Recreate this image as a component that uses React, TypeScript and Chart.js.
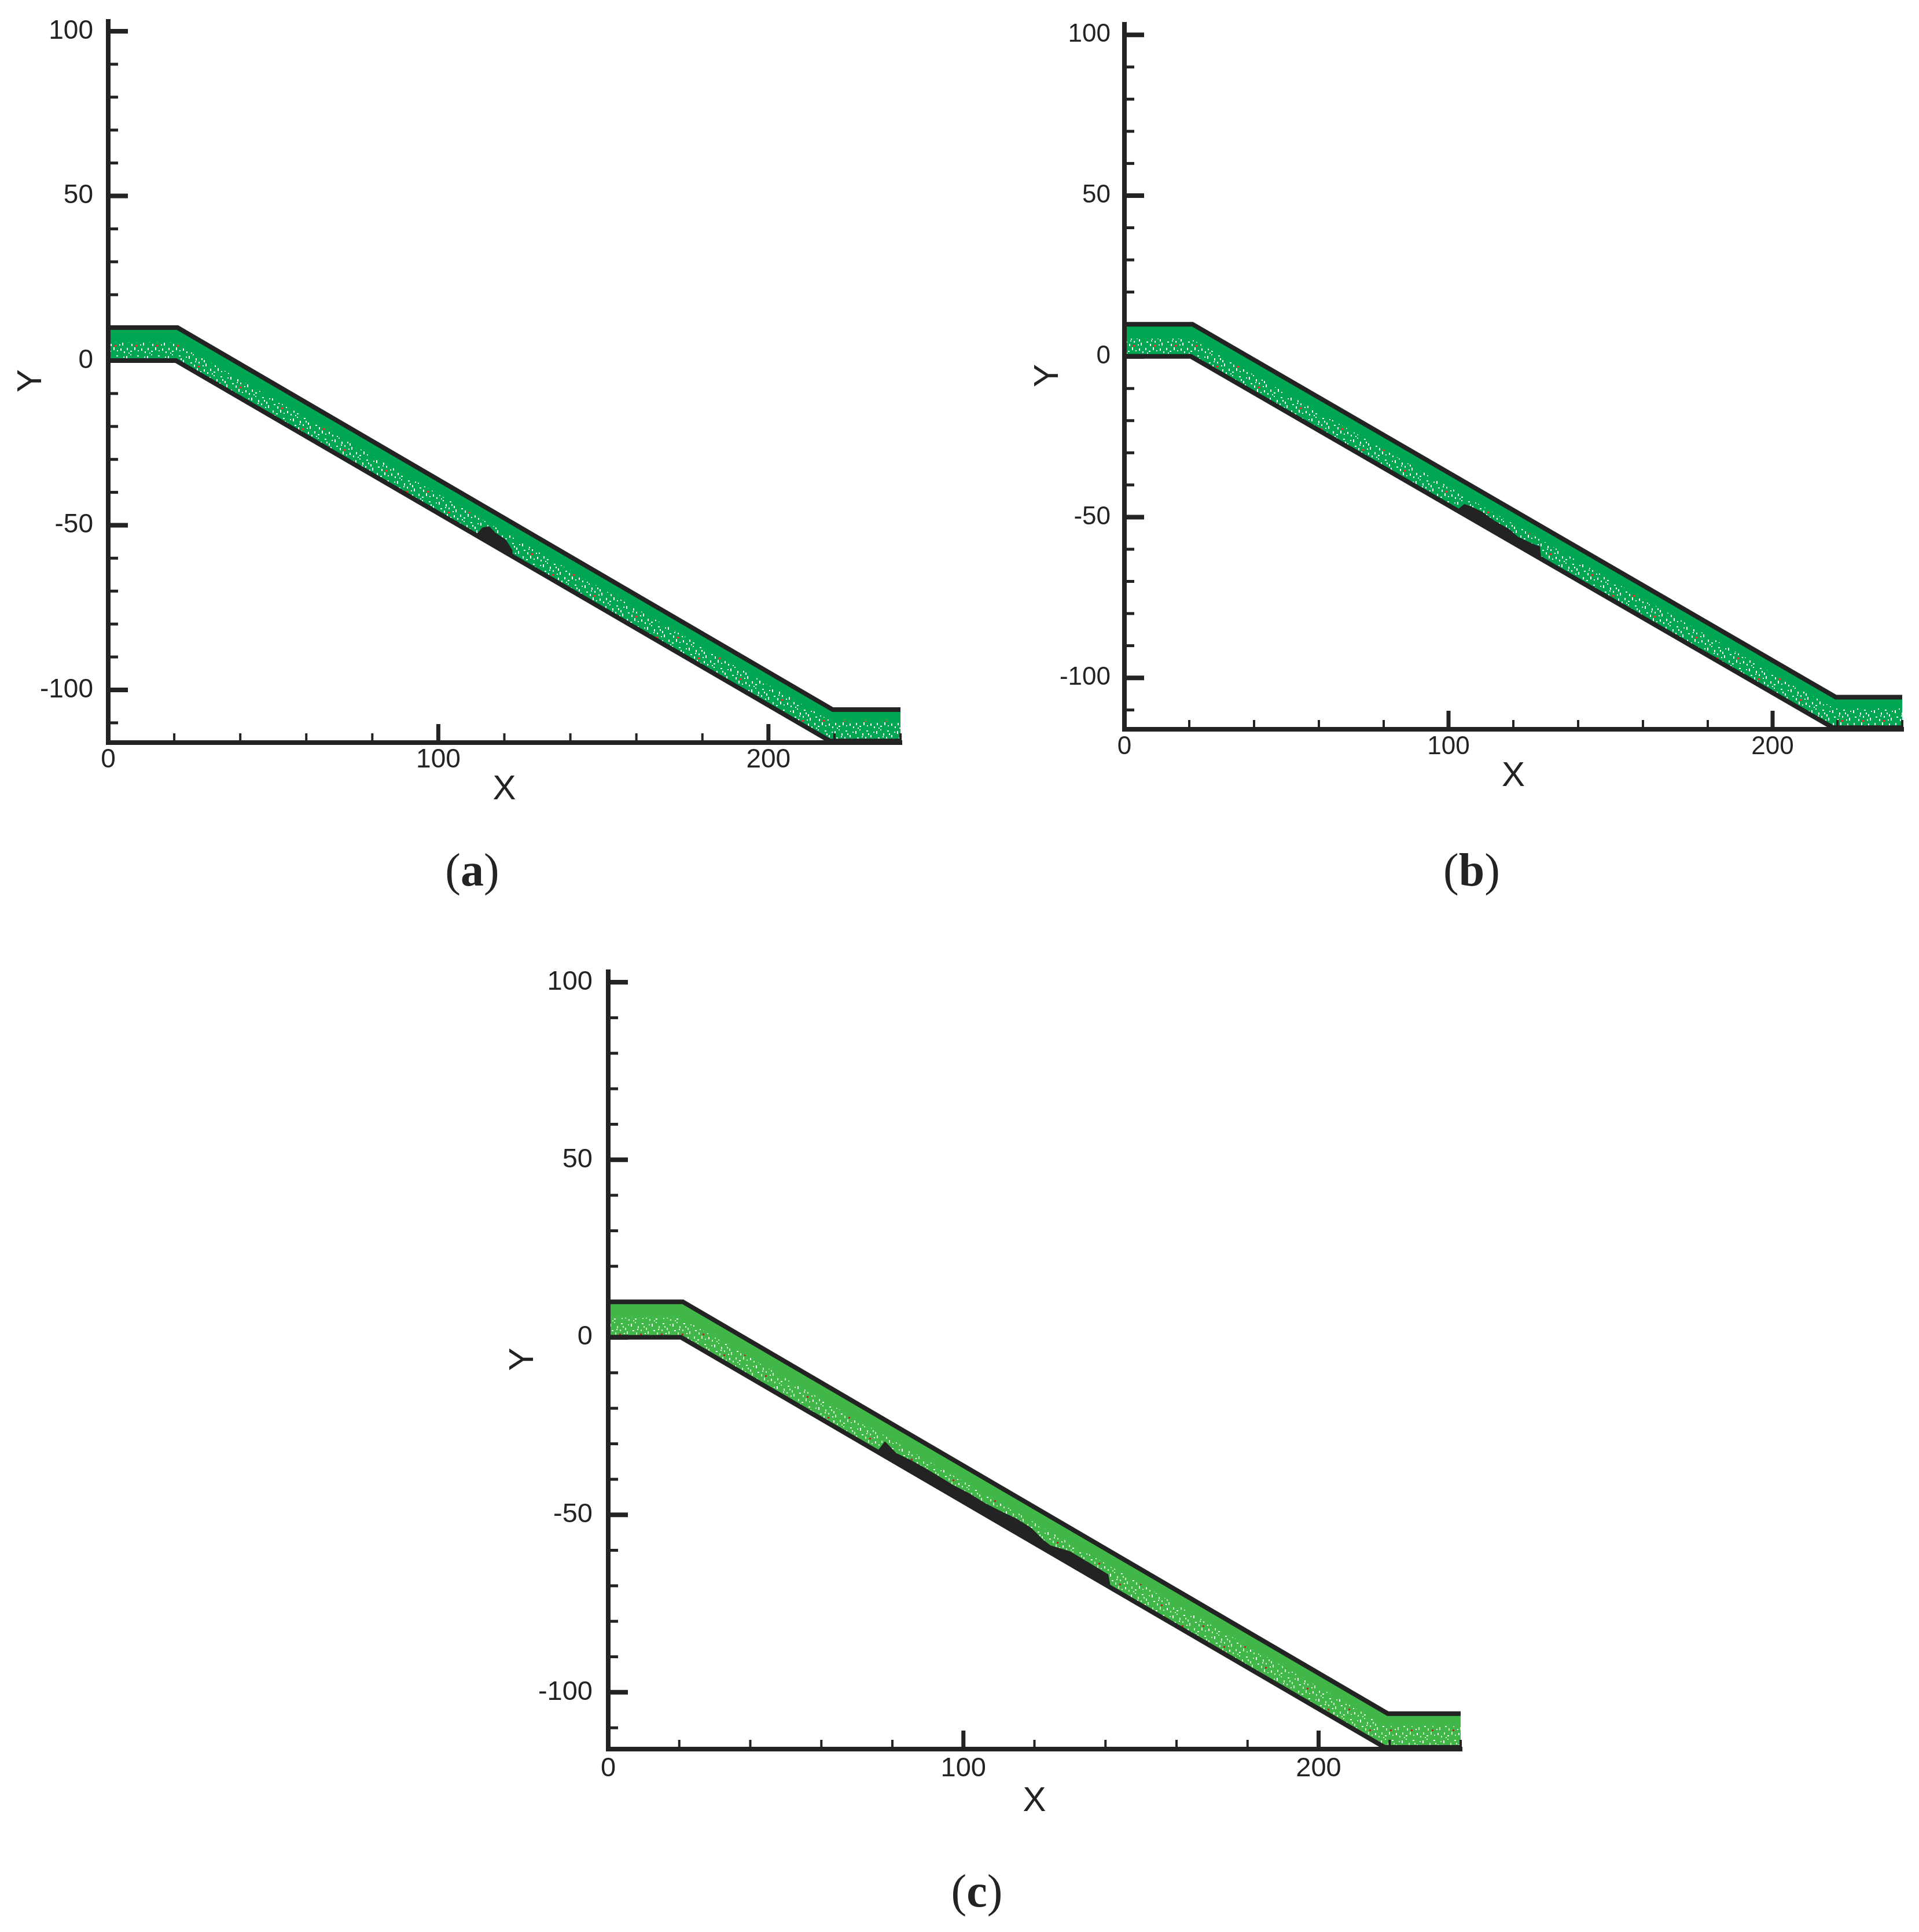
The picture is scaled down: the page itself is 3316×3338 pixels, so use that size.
import React, { useEffect, useRef } from "react";
import { Chart, registerables } from "chart.js";

Chart.register(...registerables);

// ---------------- data ----------------
const xTickValues = [0, 20, 40, 60, 80, 100, 120, 140, 160, 180, 200, 220, 240];
const yTickValues = [-110, -100, -90, -80, -70, -60, -50, -40, -30, -20, -10, 0, 10, 20, 30, 40, 50, 60, 70, 80, 90, 100];
const xMajorTicks = [0, 100, 200];
const yMajorTicks = [-100, -50, 0, 50, 100];

// channel (granular layer) upper and lower boundaries
const bandTopX = [0, 21, 219.5, 240];
const bandTopY = [10, 10, -106, -106];
const bandBottomX = [0, 20.5, 218.6, 240];
const bandBottomY = [0, 0, -115.5, -115.5];
// upper limit of the speckled (mixed particle) lower layer
const speckleTopX = [0, 20.5, 219, 240];
const speckleTopY = [5.5, 5.5, -109.5, -109.5];

// black particle cluster, panel (a)
const clusterTopAX = [111.5, 113.3, 115.4, 117.5, 120.4, 122.5];
const clusterTopAY = [-52.9, -50.7, -50.3, -52.4, -54.3, -57.6];
const clusterBaseAX = [111.5, 122.5];
const clusterBaseAY = [-53.3, -59.7];

// black particle cluster, panel (b)
const clusterTopBX = [102.5, 103.1, 104.9, 107.2, 110.3, 114.4, 118.7, 121.5, 126.4, 128.2, 128.6];
const clusterTopBY = [-47.9, -47.4, -45.9, -46.8, -48.3, -51.3, -53.7, -56.2, -58.5, -59.1, -62.8];
const clusterBaseBX = [102.5, 128.6];
const clusterBaseBY = [-48.1, -63.2];

// black particle cluster, panel (c)
const clusterTopCX = [75.5, 76.2, 77.9, 81.1, 85.4, 89.3, 93.0, 97.4, 101.7, 106.1, 110.4, 114.8, 119.1, 122.4, 124.5, 130.0, 135.4, 140.8, 141.4];
const clusterTopCY = [-32.0, -31.5, -29.3, -32.6, -34.7, -36.9, -39.1, -41.8, -44.0, -46.7, -48.9, -51.0, -53.7, -57.0, -58.6, -60.3, -63.5, -66.8, -70.0];
const clusterBaseCX = [75.5, 141.4];
const clusterBaseCY = [-32.3, -70.7];

const captions = ["a", "b", "c"];

// ---------------- helpers ----------------
const toPts = (xs: number[], ys: number[]) => xs.map((x, i) => ({ x, y: ys[i] }));

const INK = "#232323";
const FONT = "'Liberation Sans', Arial, Helvetica, sans-serif";

function makePattern(kind: string): CanvasPattern | string {
  const c = document.createElement("canvas");
  const s = 36;
  c.width = s;
  c.height = s;
  const g = c.getContext("2d");
  if (!g) return "rgba(255,255,255,0.4)";
  const marks = [
    [2, 3, 2, 5], [9, 0, 2, 2], [14, 7, 2, 4], [21, 2, 3, 2], [28, 10, 2, 4], [33, 4, 2, 2],
    [5, 14, 3, 2], [11, 18, 2, 4], [19, 13, 2, 3], [26, 19, 2, 2], [31, 16, 2, 5], [3, 25, 2, 4],
    [9, 30, 3, 2], [16, 24, 2, 5], [22, 29, 2, 2], [28, 26, 2, 4], [34, 31, 2, 3], [6, 33, 2, 2],
    [13, 12, 2, 2], [24, 7, 2, 3],
  ];
  marks.forEach(([x, y, w, h], i) => {
    g.fillStyle = kind === "c" ? (i % 3 === 0 ? "#ffffff" : "#c9ecc4") : "#ffffff";
    g.fillRect(x, y, w, h);
  });
  g.fillStyle = kind === "c" ? "#9a3b2a" : "#e8322c";
  g.fillRect(18, 20, 3, 3);
  return g.createPattern(c, "repeat") || "rgba(255,255,255,0.4)";
}

type PanelCfg = {
  key: string;
  left: number; top: number; w: number; h: number;
  area: { left: number; right: number; top: number; bottom: number };
  yMin: number; yMax: number;
  tickFont: number; yLabelPad: number; xLabelPad: number;
  yTitlePad: number; xTitlePad: number;
  green: string; speckle: string;
  cTopX: number[]; cTopY: number[]; cBaseX: number[]; cBaseY: number[];
};

const TITLE_SIZE = 60;

const panels: PanelCfg[] = [
  {
    key: "a", left: 0, top: 0, w: 1640, h: 1413,
    area: { left: 187, right: 1556, top: 33, bottom: 1283 },
    yMin: -116, yMax: 103.7, tickFont: 46, yLabelPad: 26, xLabelPad: 3,
    yTitlePad: 18, xTitlePad: 13, green: "#00A651", speckle: "ab",
    cTopX: clusterTopAX, cTopY: clusterTopAY, cBaseX: clusterBaseAX, cBaseY: clusterBaseAY,
  },
  {
    key: "b", left: 1760, top: 0, w: 1556, h: 1390,
    area: { left: 1943, right: 3287, top: 38, bottom: 1260 },
    yMin: -116, yMax: 104, tickFont: 44, yLabelPad: 24, xLabelPad: 4,
    yTitlePad: 15, xTitlePad: 13, green: "#00A651", speckle: "ab",
    cTopX: clusterTopBX, cTopY: clusterTopBY, cBaseX: clusterBaseBX, cBaseY: clusterBaseBY,
  },
  {
    key: "c", left: 800, top: 1600, w: 1800, h: 1552,
    area: { left: 1051, right: 2524, top: 1675, bottom: 3022 },
    yMin: -116, yMax: 103.6, tickFont: 47, yLabelPad: 27, xLabelPad: 6,
    yTitlePad: 68, xTitlePad: 4, green: "#41B649", speckle: "c",
    cTopX: clusterTopCX, cTopY: clusterTopCY, cBaseX: clusterBaseCX, cBaseY: clusterBaseCY,
  },
];

const captionPos = [
  { left: 816, top: 1503 },
  { left: 2543, top: 1503 },
  { left: 1688, top: 3267 },
];

const axisPlugin = {
  id: "tecplotAxes",
  afterDatasetsDraw(chart: any) {
    const { ctx, chartArea: a, scales } = chart;
    const x = scales.x;
    const y = scales.y;
    ctx.save();
    ctx.strokeStyle = INK;
    ctx.lineCap = "butt";
    // ticks on y axis (inward)
    y.ticks.forEach((t: any) => {
      const p = y.getPixelForValue(t.value);
      const major = yMajorTicks.includes(t.value);
      ctx.lineWidth = major ? 8 : 5;
      ctx.beginPath();
      ctx.moveTo(a.left, p);
      ctx.lineTo(a.left + (major ? 34 : 17), p);
      ctx.stroke();
    });
    // ticks on x axis (inward)
    x.ticks.forEach((t: any) => {
      const p = x.getPixelForValue(t.value);
      const major = xMajorTicks.includes(t.value);
      ctx.lineWidth = major ? 7 : 4;
      ctx.beginPath();
      ctx.moveTo(p, a.bottom);
      ctx.lineTo(p, a.bottom - (major ? 32 : 16));
      ctx.stroke();
    });
    // axis lines
    ctx.lineWidth = 8;
    ctx.beginPath();
    ctx.moveTo(a.left, a.top);
    ctx.lineTo(a.left, a.bottom + 4);
    ctx.moveTo(a.left - 4, a.bottom);
    ctx.lineTo(a.right + 3, a.bottom);
    ctx.stroke();
    ctx.restore();
  },
};

function Panel({ cfg }: { cfg: PanelCfg }) {
  const ref = useRef<HTMLCanvasElement>(null);
  useEffect(() => {
    const canvas = ref.current;
    if (!canvas) return;
    const pattern = makePattern(cfg.speckle);
    const top = toPts(bandTopX, bandTopY);
    const bottom = toPts(bandBottomX, bandBottomY);
    const common = { showLine: true, pointRadius: 0, pointHoverRadius: 0, tension: 0 };
    const chart = new Chart(canvas, {
      type: "scatter",
      data: {
        datasets: [
          { ...common, label: "fill", data: top, borderWidth: 0, borderColor: "rgba(0,0,0,0)", backgroundColor: cfg.green, fill: { target: 1 }, order: 5 },
          { ...common, label: "bottom", data: bottom, borderWidth: 8, borderColor: INK, fill: false, order: 1 },
          { ...common, label: "top", data: top, borderWidth: 8, borderColor: INK, fill: false, order: 1 },
          { ...common, label: "speckle", data: toPts(speckleTopX, speckleTopY), borderWidth: 0, borderColor: "rgba(0,0,0,0)", backgroundColor: pattern, fill: { target: 1 }, order: 4 },
          { ...common, label: "cluster", data: toPts(cfg.cTopX, cfg.cTopY), borderWidth: 0, borderColor: "rgba(0,0,0,0)", backgroundColor: INK, fill: { target: 5 }, order: 3 },
          { ...common, label: "clusterBase", data: toPts(cfg.cBaseX, cfg.cBaseY), borderWidth: 0, borderColor: "rgba(0,0,0,0)", fill: false, order: 3 },
        ] as any,
      },
      options: {
        responsive: false,
        animation: false,
        devicePixelRatio: 1,
        events: [],
        layout: {
          padding: {
            left: 0,
            top: cfg.area.top - cfg.top,
            right: cfg.left + cfg.w - cfg.area.right,
            bottom: 0,
          },
        },
        plugins: { legend: { display: false }, tooltip: { enabled: false } },
        scales: {
          x: {
            type: "linear",
            position: "bottom",
            min: 0,
            max: 240,
            afterBuildTicks: (s: any) => { s.ticks = xTickValues.map((v) => ({ value: v })); },
            afterFit: (s: any) => {
              s.height = cfg.top + cfg.h - cfg.area.bottom;
              s.paddingLeft = 0; s.paddingRight = 0; s.paddingTop = 0; s.paddingBottom = 0;
            },
            grid: { display: false, drawTicks: false },
            border: { display: false },
            ticks: {
              autoSkip: false, maxRotation: 0, minRotation: 0, padding: cfg.xLabelPad, color: INK,
              font: { family: FONT, size: cfg.tickFont },
              callback: (v: any) => (xMajorTicks.includes(Number(v)) ? String(v) : ""),
            },
            title: { display: true, text: "X", color: INK, font: { family: FONT, size: TITLE_SIZE }, padding: { top: 0, bottom: cfg.xTitlePad } },
          },
          y: {
            type: "linear",
            position: "left",
            min: cfg.yMin,
            max: cfg.yMax,
            afterBuildTicks: (s: any) => { s.ticks = yTickValues.map((v) => ({ value: v })); },
            afterFit: (s: any) => {
              s.width = cfg.area.left - cfg.left;
              s.paddingLeft = 0; s.paddingRight = 0; s.paddingTop = 0; s.paddingBottom = 0;
            },
            grid: { display: false, drawTicks: false },
            border: { display: false },
            ticks: {
              autoSkip: false, padding: cfg.yLabelPad, color: INK,
              font: { family: FONT, size: cfg.tickFont },
              callback: (v: any) => (yMajorTicks.includes(Number(v)) ? String(v) : ""),
            },
            title: { display: true, text: "Y", color: INK, font: { family: FONT, size: TITLE_SIZE }, padding: { top: cfg.yTitlePad, bottom: 0 } },
          },
        },
      } as any,
      plugins: [axisPlugin],
    });
    return () => chart.destroy();
  }, [cfg]);
  return (
    <canvas
      ref={ref}
      width={cfg.w}
      height={cfg.h}
      style={{ position: "absolute", left: cfg.left, top: cfg.top, width: cfg.w, height: cfg.h }}
    />
  );
}

export default function App() {
  return (
    <div style={{ position: "absolute", left: 0, top: 0, width: 3316, height: 3338, background: "#ffffff", overflow: "hidden" }}>
      {panels.map((p) => (
        <Panel key={p.key} cfg={p} />
      ))}
      {captions.map((c, i) => (
        <div
          key={c}
          style={{
            position: "absolute",
            left: captionPos[i].left,
            top: captionPos[i].top,
            transform: "translate(-50%, -50%)",
            fontFamily: "'Liberation Serif', 'Times New Roman', serif",
            fontSize: 80,
            lineHeight: 1,
            color: INK,
            whiteSpace: "nowrap",
          }}
        >
          (<b>{c}</b>)
        </div>
      ))}
    </div>
  );
}
